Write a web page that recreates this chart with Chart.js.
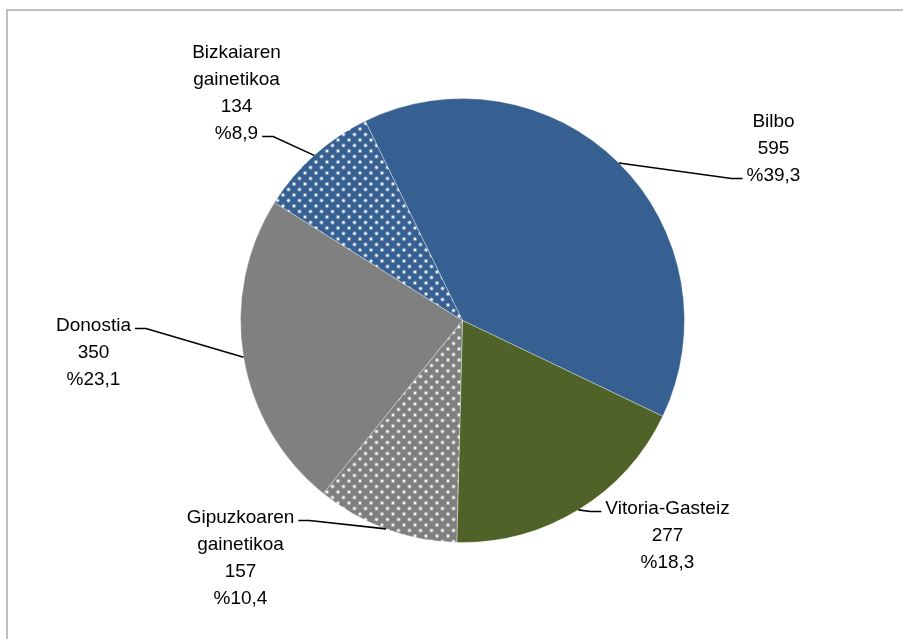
<!DOCTYPE html>
<html lang="eu">
<head>
    <meta charset="UTF-8">
    <title>Pie chart</title>
    <script src="https://cdn.jsdelivr.net/npm/chart.js"></script>
    <style>
        body { margin: 0; background: #fff; }
        #wrap { position: relative; width: 903px; height: 639px; overflow: hidden; }
        #frame { position: absolute; left: 6px; top: 9px; width: 1000px; height: 700px;
                 border-top: 2px solid #bfbfbf; border-left: 2px solid #bfbfbf; }
        #c { position: absolute; left: 0; top: 0; }
    </style>
</head>
<body>
<div id="wrap">
    <div id="frame"></div>
    <canvas id="c" width="903" height="639"></canvas>
</div>
<script>
    // datuak
    const categories = ['Bilbo', 'Vitoria-Gasteiz', 'Gipuzkoaren gainetikoa', 'Donostia', 'Bizkaiaren gainetikoa'];
    const nameLines = [['Bilbo'], ['Vitoria-Gasteiz'], ['Gipuzkoaren', 'gainetikoa'], ['Donostia'], ['Bizkaiaren', 'gainetikoa']];
    const counts = [595, 277, 157, 350, 134];
    const percents = ['39,3', '18,3', '10,4', '23,1', '8,9'];

    // etiketen kokapena, tartaren zentroarekiko (lehen lerroaren erdia)
    // line/side: zein lerrotara lotzen den marra, eta zein aldetatik
    const labelPos = [
        { dx: 311, dy: -199, line: 2, side: 'left' },
        { dx: 205, dy: 188, line: 0, side: 'left' },
        { dx: -222, dy: 197, line: 0, side: 'right' },
        { dx: -369, dy: 5, line: 0, side: 'right' },
        { dx: -226, dy: -268, line: 3, side: 'right' }
    ];

    const ctx = document.getElementById('c').getContext('2d');

    // puntuzko betegarria
    function dots(base) {
        const t = document.createElement('canvas');
        t.width = 11; t.height = 11;
        const g = t.getContext('2d');
        g.fillStyle = base;
        g.fillRect(0, 0, 11, 11);
        [[2.5, 2.5], [8, 8]].forEach(([x, y]) => {
            g.fillStyle = 'rgba(255,255,255,0.3)';
            g.beginPath(); g.arc(x, y, 2.3, 0, Math.PI * 2); g.fill();
            g.fillStyle = 'rgba(255,255,255,0.95)';
            g.beginPath(); g.arc(x, y, 1.2, 0, Math.PI * 2); g.fill();
        });
        return ctx.createPattern(t, 'repeat');
    }

    const colors = ['#366092', '#4f6228', dots('#7f7f7f'), '#808080', dots('#366092')];

    const labelPlugin = {
        id: 'labels',
        afterDatasetsDraw(chart) {
            const c = chart.ctx;
            const arcs = chart.getDatasetMeta(0).data;
            c.save();
            c.font = '19px "Liberation Sans", Arial, sans-serif';
            c.fillStyle = '#000';
            c.textAlign = 'center';
            c.textBaseline = 'middle';
            const lh = 27;
            arcs.forEach((arc, i) => {
                const p = arc.getProps(['x', 'y', 'startAngle', 'endAngle', 'outerRadius'], true);
                const mid = (p.startAngle + p.endAngle) / 2;
                const ex = p.x + Math.cos(mid) * p.outerRadius;
                const ey = p.y + Math.sin(mid) * p.outerRadius;
                const lp = labelPos[i];
                const lines = nameLines[i].concat([String(counts[i]), '%' + percents[i]]);
                const tx = p.x + lp.dx;
                const ty = p.y + lp.dy;
                lines.forEach((s, k) => c.fillText(s, tx, ty + k * lh));
                // marra
                const w = c.measureText(lines[lp.line]).width;
                const ay = ty + lp.line * lh + 3;
                const ax = lp.side === 'left' ? tx - w / 2 - 4 : tx + w / 2 + 4;
                const bx = lp.side === 'left' ? ax - 11 : ax + 11;
                c.beginPath();
                c.moveTo(ex, ey);
                c.lineTo(bx, ay);
                c.lineTo(ax, ay);
                c.strokeStyle = '#000';
                c.lineWidth = 1.6;
                c.stroke();
            });
            c.restore();
        }
    };

    new Chart(ctx, {
        type: 'pie',
        data: {
            labels: categories,
            datasets: [{
                data: counts,
                backgroundColor: colors,
                borderColor: 'rgba(255,255,255,0.35)',
                borderWidth: 1
            }]
        },
        options: {
            responsive: false,
            animation: false,
            rotation: -26,
            layout: { padding: { left: 240, right: 218, top: 98, bottom: 96 } },
            plugins: {
                legend: { display: false },
                tooltip: { enabled: false }
            }
        },
        plugins: [labelPlugin]
    });
</script>
</body>
</html>
